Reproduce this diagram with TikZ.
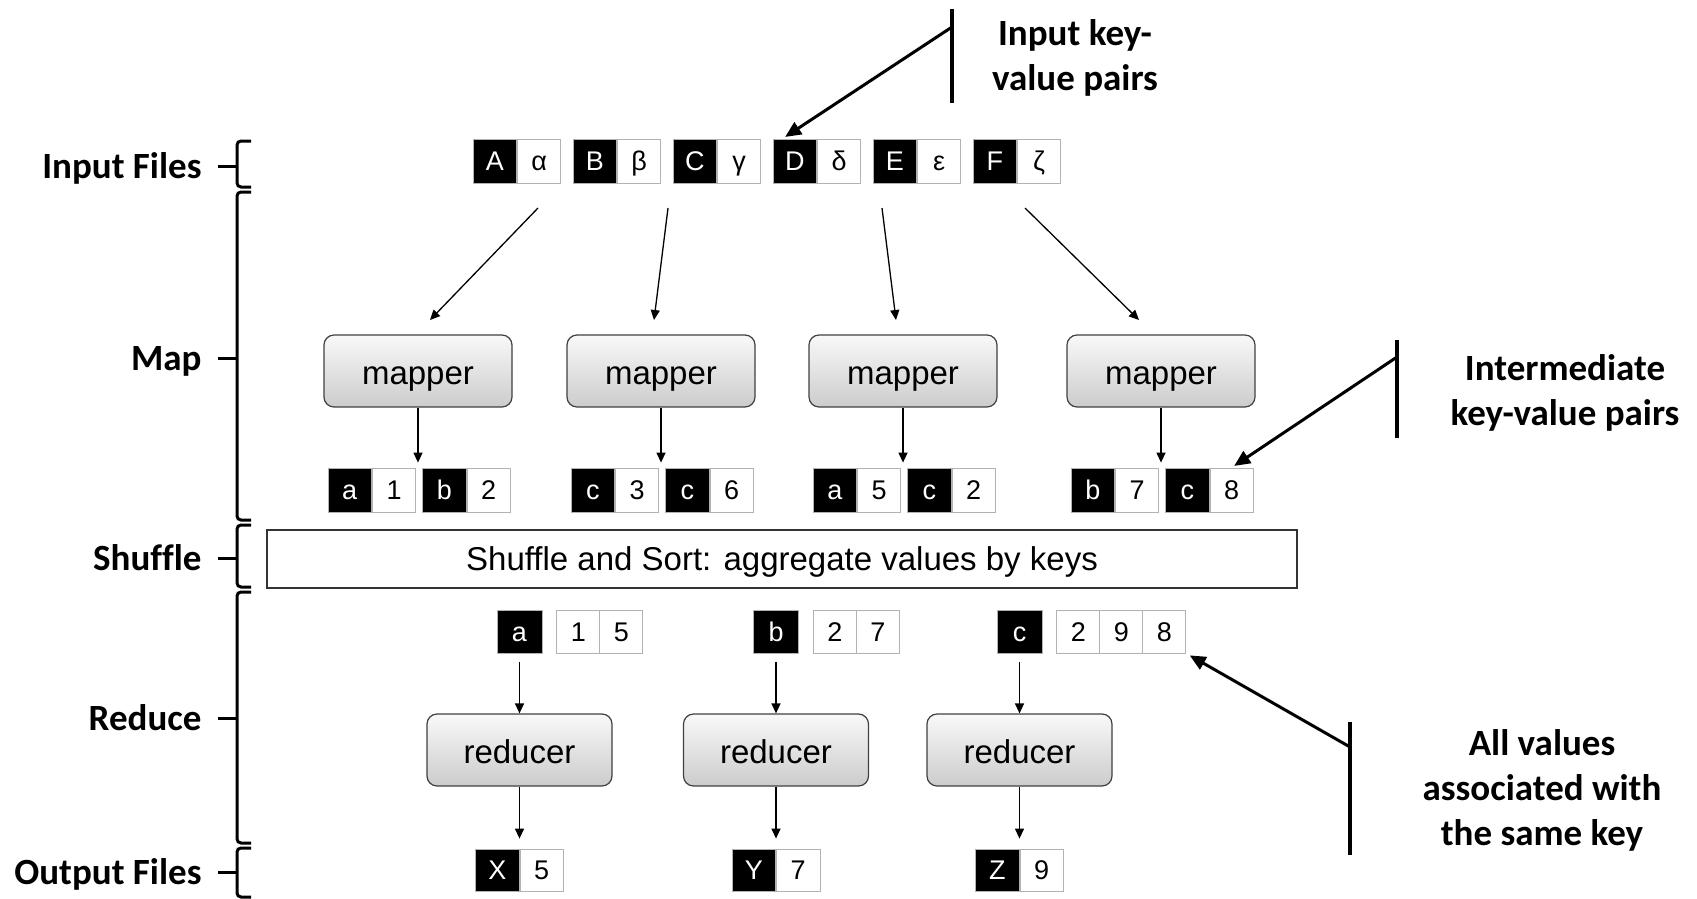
\documentclass[tikz,border=0pt]{standalone}
\usepackage{fontspec}
\setmainfont{Liberation Sans}
\newfontfamily\calfont[Ligatures=CommonOff]{Carlito}
\usetikzlibrary{arrows.meta,positioning}

\begin{document}
\begin{tikzpicture}[x=1pt, y=-1pt,
    keycell/.style={draw=gray!60, line width=0.8pt, fill=black, text=white, inner sep=0pt,
        minimum width=43.5pt, minimum height=44pt, text height=19.3pt, text depth=0pt,
        font=\fontsize{27}{30}\selectfont},
    valcell/.style={keycell, fill=white, text=black},
    worker/.style={draw=black!75, line width=1.2pt, rounded corners=10pt,
        top color=gray!5, bottom color=gray!40, minimum width=188pt,
        minimum height=72pt, text height=27pt, text depth=0pt,
        font=\fontsize{33}{38}\selectfont},
    flow/.style={-{Triangle[length=10pt,width=9pt]}, line width=1.3pt},
    note/.style={-{Triangle[length=16pt,width=14pt]}, line width=3pt},
    bar/.style={line width=3.5pt},
    brc/.style={line width=3pt, rounded corners=4pt},
    lbl/.style={font=\calfont\bfseries\fontsize{37}{44}\selectfont, text depth=0pt},
    lblr/.style={font=\calfont\bfseries\fontsize{37}{45}\selectfont, align=center}]

    \useasboundingbox (0,0) rectangle (1697,899);

    % 输入文件
    \foreach \k/\v [count=\i] in {A/α, B/β, C/γ, D/δ, E/ε, F/ζ} {
        \node[keycell] (ink\i) at ({473+100*(\i-1)+21.75}, 161) {\k};
        \node[valcell, right=0pt of ink\i] (inv\i) {\v};
    }

    % 输入到 mapper 的箭头
    \coordinate (s1) at (538,208);  \coordinate (t1) at (430,320);
    \coordinate (s2) at (668,208);  \coordinate (t2) at (654,320);
    \coordinate (s3) at (882,208);  \coordinate (t3) at (896,320);
    \coordinate (s4) at (1025,208); \coordinate (t4) at (1139,320);
    \foreach \i in {1,...,4}
        \draw[flow] (s\i) -- (t\i);

    % mapper 和中间键值对
    \foreach \x/\ka/\va/\kb/\vb [count=\i] in {418/a/1/b/2, 661/c/3/c/6, 903/a/5/c/2, 1161/b/7/c/8} {
        \node[worker] (map\i) at (\x,371) {mapper};
        \node[keycell] (mk\i) at (\x-68.25,490) {\ka};
        \node[valcell, right=0pt of mk\i] (mv\i) {\va};
        \node[keycell, right=6pt of mv\i] (nk\i) {\kb};
        \node[valcell, right=0pt of nk\i] (nv\i) {\vb};
        \draw[flow, shorten >=5pt] (map\i.south) -- (map\i.south |- nk\i.north);
    }

    % shuffle
    \node[draw=black!80, line width=1.2pt, inner sep=0pt, minimum width=1030pt,
        minimum height=58pt, text height=23.6pt, text depth=0pt,
        font=\fontsize{33}{38}\selectfont] (shuf) at (782,559)
        {Shuffle and Sort: aggregate values by keys};

    % reducer
    \foreach \x/\k [count=\i] in {519.5/a, 776/b, 1019.5/c} {
        \node[keycell, minimum width=45pt, minimum height=43pt] (rk\i) at (\x,631.5) {\k};
        \node[worker, minimum width=185pt] (red\i) at (\x,750) {reducer};
        \draw[flow, shorten <=9pt] (rk\i) -- (red\i);
    }
    \foreach \g/\j/\v in {1/1/1, 1/2/5, 2/1/2, 2/2/7, 3/1/2, 3/2/9, 3/3/8}
        \node[valcell, minimum width=43pt, minimum height=43pt, anchor=west]
            (rv\g\j) at ([xshift={14+43*(\j-1)}]rk\g.east) {\v};

    % 输出文件
    \coordinate (outrow) at (0,870);
    \foreach \k/\v [count=\i] in {X/5, Y/7, Z/9} {
        \node[keycell, minimum height=42pt, anchor=east] (ok\i) at (red\i |- outrow) {\k};
        \node[valcell, minimum height=42pt, right=0pt of ok\i] (ov\i) {\v};
        \draw[flow, shorten >=10pt] (red\i.south) -- (ok\i.north east);
    }

    % 左侧阶段括号
    \foreach \lab/\ya/\yb/\yc [count=\i] in {Input Files/141/166/187, Map/192/358/520,
            Shuffle/525/558/587, Reduce/592/718/843, Output Files/848/872/897} {
        \draw[brc] (251,\ya) -- (237,\ya) -- (237,\yc) -- (251,\yc);
        \draw[brc] (237,\yb) -- (218,\yb);
        \node[lbl, anchor=east] (lab\i) at (205,\yb) {\lab};
    }

    % 右侧说明
    \node[lblr] (nin) at (1075,58) {Input key-\\value pairs};
    \coordinate (b1a) at (952,9);  \coordinate (b1b) at (952,103);
    \coordinate (b1s) at (952,27);
    \draw[bar] (b1a) -- (b1b);
    \draw[note, shorten >=3pt] (b1s) -- ([xshift=10pt]ink4.north west);

    \node[lblr] (nmid) at (1565,393) {Intermediate\\key-value pairs};
    \coordinate (b2a) at (1397,340); \coordinate (b2b) at (1397,438);
    \coordinate (b2s) at (1397,357);
    \draw[bar] (b2a) -- (b2b);
    \draw[note, shorten >=3pt] (b2s) -- (nv4.north);

    \node[lblr] (nall) at (1542,790) {All values\\associated with\\the same key};
    \coordinate (b3a) at (1350,722); \coordinate (b3b) at (1350,855);
    \coordinate (b3s) at (1350,747);
    \draw[bar] (b3a) -- (b3b);
    \draw[note, shorten >=4pt] (b3s) -- (rv33.south east);

\end{tikzpicture}
\end{document}
